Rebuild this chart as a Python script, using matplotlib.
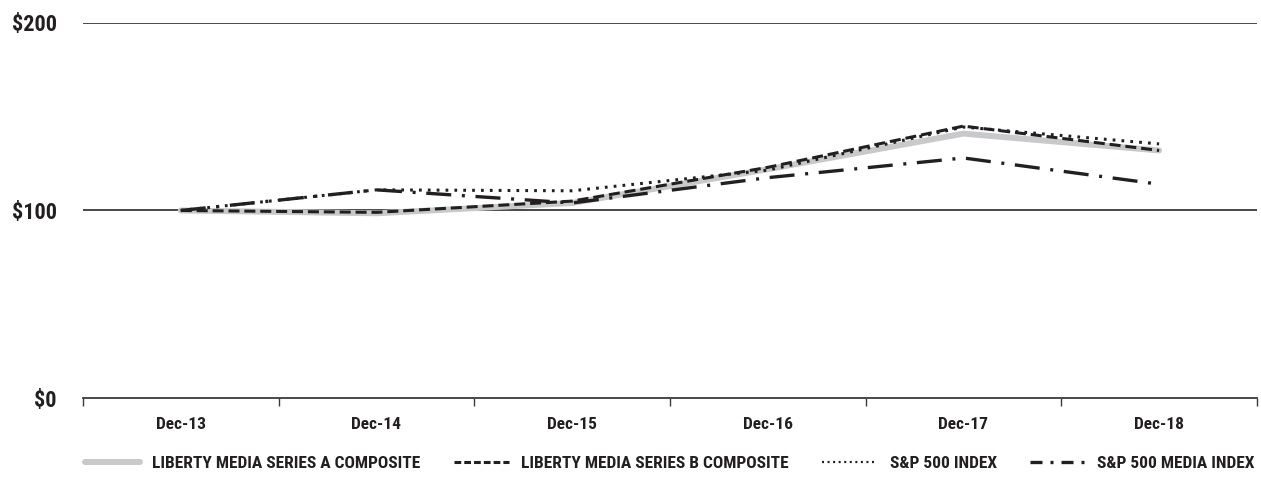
import matplotlib
matplotlib.use("Agg")
from matplotlib import pyplot as plt
from matplotlib.lines import Line2D

plt.rcParams['font.family'] = ['Roboto Condensed', 'Archivo Narrow', 'Barlow Condensed', 'DejaVu Sans']
plt.rcParams['font.weight'] = 'bold'

years = ['Dec-13', 'Dec-14', 'Dec-15', 'Dec-16', 'Dec-17', 'Dec-18']
series_a = [100, 98.5, 104, 122, 141, 132]
series_b = [100, 99, 105, 123, 145, 132]
sp500 = [100, 111, 110.5, 121.5, 144.5, 135.5]
sp500_media = [100, 111, 104, 117.5, 128, 114]

y_ticks = [0, 100, 200]
y_labels = ['$0', '$100', '$200']

TEXT = '#231f20'
GRAY = '#c8c9cb'
AXIS = '#3a3a3a'

fig = plt.figure(figsize=(12.61, 4.98), dpi=100)
ax = fig.add_axes([0.0658, 0.2008, 0.931, 0.7531])

x = range(len(years))
ax.plot(x, series_a, color=GRAY, lw=4.3, solid_capstyle='round', zorder=2,
        label='LIBERTY MEDIA SERIES A COMPOSITE')
ax.plot(x, sp500_media, color=TEXT, lw=2.4, dashes=(7.5, 3.2, 0.9, 3.2),
        zorder=3, label='S&P 500 MEDIA INDEX')
ax.plot(x, series_b, color=TEXT, lw=2.2, dashes=(3.6, 1.6), zorder=4,
        label='LIBERTY MEDIA SERIES B COMPOSITE')
ax.plot(x, sp500, color=TEXT, lw=2.2, dashes=(0.9, 2.0), zorder=5,
        label='S&P 500 INDEX')

ax.set_xlim(-0.5, len(years) - 0.5)
ax.set_ylim(0, 200)

# gridlines at $100 / $200
for v in y_ticks[1:]:
    ax.axhline(v, color=AXIS, lw=1.3, zorder=1)

ax.set_yticks(y_ticks)
ax.set_yticklabels(y_labels, fontsize=16, color=TEXT)
ax.tick_params(axis='y', length=0, pad=19)

ax.set_xticks(list(x))
ax.set_xticklabels(years, fontsize=12.5, color=TEXT)
ax.set_xticks([i - 0.5 for i in range(len(years) + 1)], minor=True)
ax.tick_params(axis='x', which='major', length=0, pad=14)
ax.tick_params(axis='x', which='minor', length=6, width=1, color=AXIS, direction='out')

for s in ['top', 'right', 'left']:
    ax.spines[s].set_visible(False)
ax.spines['bottom'].set_color(AXIS)
ax.spines['bottom'].set_linewidth(1.3)

handles = [
    Line2D([], [], color=GRAY, lw=4.3, solid_capstyle='round'),
    Line2D([], [], color=TEXT, lw=2.2, dashes=(2.2, 1.0)),
    Line2D([], [], color=TEXT, lw=1.6, dashes=(0.9, 1.6)),
    Line2D([], [], color=TEXT, lw=2.4, dashes=(3.6, 2.4, 0.9, 2.4)),
]
labels = ['LIBERTY MEDIA SERIES A COMPOSITE', 'LIBERTY MEDIA SERIES B COMPOSITE',
          'S&P 500 INDEX', 'S&P 500 MEDIA INDEX']
leg = fig.legend(handles, labels, loc='center right', bbox_to_anchor=(0.9952, 0.07), ncol=4,
                 frameon=False, fontsize=12.5, handlelength=3.2, columnspacing=1.9,
                 handletextpad=0.7, borderpad=0, borderaxespad=0)
for t in leg.get_texts():
    t.set_color(TEXT)

fig.savefig('out.png', dpi=100)
